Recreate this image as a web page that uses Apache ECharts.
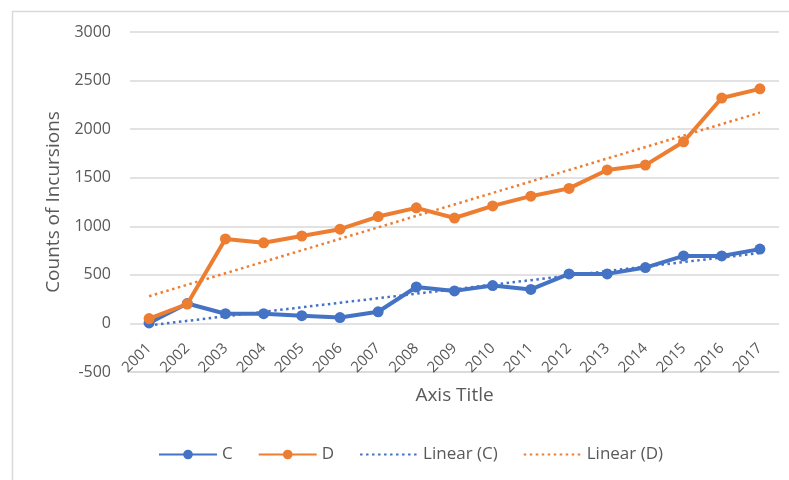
<!DOCTYPE html>
<html>
<head>
<meta charset="utf-8">
<script src="https://cdn.jsdelivr.net/npm/echarts@6/dist/echarts.min.js"></script>
<style>
  html, body { margin: 0; padding: 0; background: #ffffff; }
  #chart { width: 789px; height: 480px; }
</style>
</head>
<body>
<div id="chart"></div>
<script>
// Years on the category axis
const years = ['2001','2002','2003','2004','2005','2006','2007','2008','2009',
               '2010','2011','2012','2013','2014','2015','2016','2017'];

// Yearly counts of incursions
const seriesC = [5, 205, 100, 100, 80, 60, 120, 375, 335, 390, 350, 510, 510, 575, 695, 695, 765];
const seriesD = [50, 200, 870, 830, 900, 970, 1100, 1190, 1085, 1210, 1310, 1390, 1580, 1630, 1870, 2320, 2415];

// Linear trend lines: values at the first and last year
const trendC = [-20, 725];
const trendD = [280, 2170];

// Value axis ticks
const yTicks = [-500, 0, 500, 1000, 1500, 2000, 2500, 3000];

const BLUE = '#4472C4';
const ORANGE = '#ED7D31';
const TEXT = '#595959';
const GRID = '#d9d9d9';
const FONT = 'Open Sans';

// A trend line spans only the two end years; the gaps are bridged
function endPoints(pair) {
  const arr = years.map(() => null);
  arr[0] = pair[0];
  arr[arr.length - 1] = pair[1];
  return arr;
}

const chart = echarts.init(document.getElementById('chart'), null, { renderer: 'canvas' });

chart.setOption({
  backgroundColor: '#ffffff',
  animation: false,
  textStyle: { fontFamily: FONT, color: TEXT },
  graphic: [{
    type: 'rect',
    left: 10, top: 9,
    shape: { width: 900, height: 600 },
    style: { fill: 'none', stroke: GRID, lineWidth: 1.5 },
    silent: true, z: -1
  }],
  grid: { left: 130, right: 10, top: 32, bottom: 108, containLabel: false },
  xAxis: {
    type: 'category',
    data: years,
    boundaryGap: true,
    name: 'Axis Title',
    nameLocation: 'middle',
    nameGap: 14,
    nameMoveOverlap: false,
    nameTextStyle: { fontFamily: FONT, fontSize: 19, color: TEXT },
    axisLine: { onZero: false, lineStyle: { color: GRID, width: 1.5 } },
    axisTick: { show: false },
    // labels hang just below the zero line
    axisLabel: { rotate: 45, margin: -26, fontFamily: FONT, fontSize: 15, color: TEXT, interval: 0 }
  },
  yAxis: {
    type: 'value',
    min: yTicks[0],
    max: yTicks[yTicks.length - 1],
    interval: yTicks[1] - yTicks[0],
    name: 'Counts of Incursions',
    nameLocation: 'middle',
    nameGap: 67,
    nameTextStyle: { fontFamily: FONT, fontSize: 19, color: TEXT },
    axisLine: { show: false },
    axisTick: { show: false },
    axisLabel: { margin: 19, fontFamily: FONT, fontSize: 16, color: TEXT, formatter: v => String(v) },
    splitLine: { lineStyle: { color: GRID, width: 1.5 } }
  },
  legend: {
    left: 158,
    top: 446,
    padding: 0,
    itemWidth: 58,
    itemHeight: 12,
    itemGap: 25,
    textStyle: { fontFamily: FONT, fontSize: 17, color: TEXT },
    data: [
      'C',
      'D',
      { name: 'Linear (C)', itemStyle: { opacity: 0 } },
      { name: 'Linear (D)', itemStyle: { opacity: 0 } }
    ]
  },
  series: [
    {
      name: 'C', type: 'line', data: seriesC,
      symbol: 'circle', symbolSize: 11,
      lineStyle: { color: BLUE, width: 4 },
      itemStyle: { color: BLUE },
      z: 3
    },
    {
      name: 'D', type: 'line', data: seriesD,
      symbol: 'circle', symbolSize: 11,
      lineStyle: { color: ORANGE, width: 4 },
      itemStyle: { color: ORANGE },
      z: 4
    },
    {
      name: 'Linear (C)', type: 'line', data: endPoints(trendC),
      connectNulls: true, symbol: 'none',
      lineStyle: { color: BLUE, width: 2.5, type: [2.5, 3.5] },
      itemStyle: { color: 'rgba(0,0,0,0)' },
      z: 2
    },
    {
      name: 'Linear (D)', type: 'line', data: endPoints(trendD),
      connectNulls: true, symbol: 'none',
      lineStyle: { color: ORANGE, width: 2.5, type: [2.5, 3.5] },
      itemStyle: { color: 'rgba(0,0,0,0)' },
      z: 2
    }
  ]
});
</script>
</body>
</html>
